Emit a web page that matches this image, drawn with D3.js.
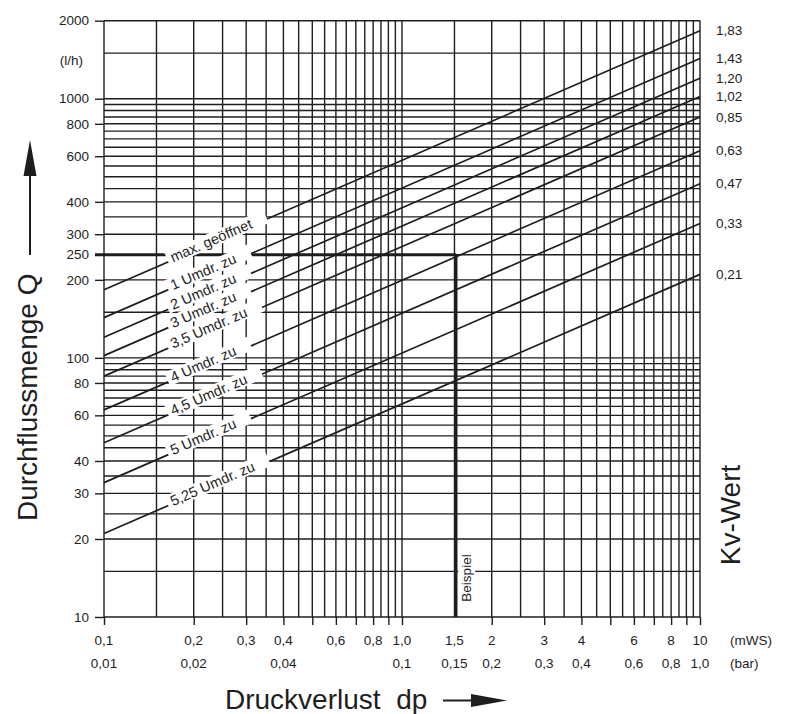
<!DOCTYPE html>
<html>
<head>
<meta charset="utf-8">
<script src="https://cdn.jsdelivr.net/npm/d3@7"></script>
<style>
  body { margin: 0; background: #fff; }
  svg { display: block; font-family: "Liberation Sans", Arial, sans-serif; }
</style>
</head>
<body>
<svg id="chart" width="789" height="714"></svg>
<script>
// Kv-Kennlinien: Durchfluss (l/h) am linken Rand (0,1 mWS) und am rechten Rand (10 mWS)
const kvLabels = ["1,83", "1,43", "1,20", "1,02", "0,85", "0,63", "0,47", "0,33", "0,21"];
const qAtMin = [183, 143, 120, 102, 85, 63, 47, 33, 21];
const qAtMax = [1830, 1430, 1200, 1020, 850, 630, 470, 330, 210];
const turnLabels = ["max. geöffnet", "1 Umdr. zu", "2 Umdr. zu", "3 Umdr. zu", "3,5 Umdr. zu",
                    "4 Umdr. zu", "4,5 Umdr. zu", "5 Umdr. zu", "5,25 Umdr. zu"];

// Achsbeschriftungen
const qTicks = [10, 20, 30, 40, 60, 80, 100, 200, 250, 300, 400, 600, 800, 1000, 2000];
const dpTicks = [0.1, 0.2, 0.3, 0.4, 0.6, 0.8, 1, 1.5, 2, 3, 4, 6, 8, 10];
const dpLabels = ["0,1", "0,2", "0,3", "0,4", "0,6", "0,8", "1,0", "1,5", "2", "3", "4", "6", "8", "10"];
const barTicks = [0.1, 0.2, 0.4, 1, 1.5, 2, 3, 4, 6, 8, 10];   // Lage in mWS
const barLabels = ["0,01", "0,02", "0,04", "0,1", "0,15", "0,2", "0,3", "0,4", "0,6", "0,8", "1,0"];

// Beispiel: 250 l/h
const exampleQ = 250;
const exampleDp = 1.52;

const svg = d3.select("#chart");
const ink = "#1e1e1e";

const x = d3.scaleLog().domain([0.1, 10]).range([104, 700]);
const y = d3.scaleLog().domain([10, 2000]).range([617, 20.7]);

// Raster
const xGrid = d3.range(0.1, 1.001, 0.05).concat(d3.range(1.5, 10.01, 0.5));
const yGrid = d3.range(10, 100, 5).concat(d3.range(100, 1000, 50), [1000, 1500, 2000]);

const grid = svg.append("g").attr("stroke", ink).attr("stroke-width", 1.4);
grid.selectAll("line.v").data(xGrid).join("line").attr("class", "v")
    .attr("x1", d => x(d)).attr("x2", d => x(d))
    .attr("y1", y(2000)).attr("y2", y(10));
grid.selectAll("line.h").data(yGrid).join("line").attr("class", "h")
    .attr("x1", x(0.1)).attr("x2", x(10))
    .attr("y1", d => y(d)).attr("y2", d => y(d));

// Achsen (nur Striche)
const yAxis = svg.append("g").attr("transform", `translate(${x(0.1)},0)`)
    .call(d3.axisLeft(y).tickValues(qTicks).tickSize(9).tickFormat(""));
const xAxis = svg.append("g").attr("transform", `translate(0,${y(10)})`)
    .call(d3.axisBottom(x).tickValues(d3.range(0.1, 1.001, 0.1).concat(d3.range(2, 10.01, 1)))
          .tickSize(8).tickFormat(""));
[yAxis, xAxis].forEach(a => {
    a.select(".domain").remove();
    a.selectAll(".tick line").attr("stroke", ink).attr("stroke-width", 1.4);
});

// Beispiel-Linien
svg.append("line")
    .attr("x1", x(0.1) - 9).attr("x2", x(exampleDp))
    .attr("y1", y(exampleQ)).attr("y2", y(exampleQ))
    .attr("stroke", ink).attr("stroke-width", 3);
svg.append("line")
    .attr("x1", x(exampleDp)).attr("x2", x(exampleDp))
    .attr("y1", y(exampleQ)).attr("y2", y(10))
    .attr("stroke", ink).attr("stroke-width", 2.6);

// Kennlinien
const lines = kvLabels.map((k, i) => ({
    kv: k, turn: turnLabels[i],
    x0: x(0.1), y0: y(qAtMin[i]), x1: x(10), y1: y(qAtMax[i])
}));
svg.append("g").selectAll("line").data(lines).join("line")
    .attr("x1", d => d.x0).attr("y1", d => d.y0)
    .attr("x2", d => d.x1).attr("y2", d => d.y1)
    .attr("stroke", ink).attr("stroke-width", 1.7);

// Beschriftung der Kennlinien (mit weißem Hintergrund)
const labelX = 172;
const labels = svg.append("g").selectAll("g").data(lines).join("g")
    .attr("transform", d => {
        const t = (labelX - d.x0) / (d.x1 - d.x0);
        const ly = d.y0 + t * (d.y1 - d.y0);
        const ang = Math.atan2(d.y1 - d.y0, d.x1 - d.x0) * 180 / Math.PI;
        return `translate(${labelX},${ly}) rotate(${ang})`;
    });
const labelText = labels.append("text")
    .attr("x", 0).attr("y", 2.5)
    .attr("font-size", 14.5)
    .attr("fill", ink)
    .text(d => d.turn);
labels.each(function () {
    const g = d3.select(this);
    const len = g.select("text").node().getComputedTextLength();
    g.insert("rect", "text")
        .attr("x", -4).attr("y", -10)
        .attr("width", len + 20).attr("height", 14.5)
        .attr("fill", "#fff");
});

// Kv-Werte rechts
svg.append("g").selectAll("text").data(lines).join("text")
    .attr("x", 716).attr("y", d => d.y1).attr("dy", "0.35em")
    .attr("font-size", 13.5).attr("fill", ink)
    .text(d => d.kv);

// y-Beschriftung
svg.append("g").selectAll("text").data(qTicks).join("text")
    .attr("x", 89).attr("y", d => y(d)).attr("dy", "0.35em")
    .attr("text-anchor", "end").attr("font-size", 13.5).attr("fill", ink)
    .text(d => d);
svg.append("text").attr("x", 83).attr("y", 65)
    .attr("text-anchor", "end").attr("font-size", 13.5).attr("fill", ink)
    .text("(l/h)");

// x-Beschriftung: mWS und bar
svg.append("g").selectAll("text").data(dpTicks).join("text")
    .attr("x", d => x(d)).attr("y", 645)
    .attr("text-anchor", "middle").attr("font-size", 13.5).attr("fill", ink)
    .text((d, i) => dpLabels[i]);
svg.append("g").selectAll("text").data(barTicks).join("text")
    .attr("x", d => x(d)).attr("y", 668)
    .attr("text-anchor", "middle").attr("font-size", 13.5).attr("fill", ink)
    .text((d, i) => barLabels[i]);
svg.append("text").attr("x", 730).attr("y", 645)
    .attr("font-size", 13.5).attr("fill", ink).text("(mWS)");
svg.append("text").attr("x", 730).attr("y", 668)
    .attr("font-size", 13.5).attr("fill", ink).text("(bar)");

// "Beispiel"
const bx = x(exampleDp) + 15, by = 578;
svg.append("rect").attr("x", bx - 13).attr("y", by - 27)
    .attr("width", 17).attr("height", 54).attr("fill", "#fff");
svg.append("text")
    .attr("transform", `translate(${bx},${by}) rotate(-90)`)
    .attr("text-anchor", "middle").attr("font-size", 13.5).attr("fill", ink)
    .text("Beispiel");

// Achsentitel
svg.append("text").attr("x", 225).attr("y", 709)
    .attr("font-size", 28).attr("fill", ink)
    .text("Druckverlust\u00a0\u00a0dp");
svg.append("line").attr("x1", 443).attr("x2", 474).attr("y1", 700.5).attr("y2", 700.5)
    .attr("stroke", ink).attr("stroke-width", 2);
svg.append("path").attr("d", "M471,694 L507,700.5 L471,707 Z").attr("fill", ink);

svg.append("text")
    .attr("transform", "translate(37,521) rotate(-90)")
    .attr("font-size", 28).attr("fill", ink)
    .text("Durchflussmenge\u00a0Q");
svg.append("line").attr("x1", 30).attr("x2", 30).attr("y1", 255).attr("y2", 172)
    .attr("stroke", ink).attr("stroke-width", 2);
svg.append("path").attr("d", "M23.5,176 L30,140 L36.5,176 Z").attr("fill", ink);

svg.append("text")
    .attr("transform", "translate(740,515) rotate(-90)")
    .attr("text-anchor", "middle").attr("font-size", 28).attr("fill", ink)
    .text("Kv-Wert");
</script>
</body>
</html>
